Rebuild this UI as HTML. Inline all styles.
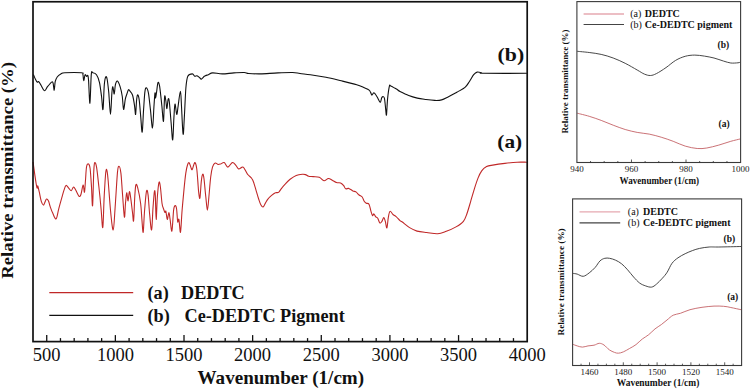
<!DOCTYPE html>
<html><head><meta charset="utf-8"><style>
html,body{margin:0;padding:0;background:#fff;}
svg{display:block;}
text{font-family:"Liberation Serif",serif;}
</style></head><body>
<svg width="750" height="389" viewBox="0 0 750 389">
<rect x="0" y="0" width="750" height="389" fill="#fff"/>
<!-- main chart -->
<g fill="none" stroke-linejoin="round" stroke-linecap="round">
<path d="M33.6,74.9 C33.9,75.5 34.5,77.3 35.1,78.5 C35.7,79.7 36.6,81.6 37.2,82.1 C37.8,82.6 38.0,81.0 38.7,81.6 C39.4,82.2 40.3,84.2 41.3,85.7 C42.2,87.2 43.4,90.6 44.4,90.8 C45.4,91.0 46.3,88.2 47.5,86.7 C48.7,85.2 50.7,82.7 51.6,82.1 C52.5,81.5 52.7,81.7 53.1,83.1 C53.5,84.5 53.9,90.5 54.2,90.3 C54.6,90.0 54.7,83.8 55.2,81.6 C55.7,79.4 56.3,78.3 57.2,77.0 C58.1,75.7 59.5,74.6 60.8,73.9 C62.1,73.2 61.5,73.0 64.9,72.8 C68.3,72.6 78.4,72.5 81.4,72.8 C84.4,73.1 82.5,73.1 82.9,74.4 C83.3,75.7 83.3,80.5 83.7,80.6 C84.1,80.7 84.6,75.5 85.1,74.8 C85.6,74.1 86.1,76.4 86.6,76.5 C87.0,76.6 87.5,74.7 87.8,75.4 C88.1,76.1 88.2,76.0 88.6,80.6 C88.9,85.2 89.5,104.2 89.9,103.2 C90.4,102.2 90.8,79.5 91.3,74.4 C91.8,69.3 91.9,72.7 92.8,72.8 C93.7,72.9 95.4,73.2 96.5,74.8 C97.6,76.4 98.7,78.9 99.5,82.6 C100.3,86.3 101.0,92.5 101.6,97.0 C102.2,101.5 102.5,111.5 103.0,109.4 C103.5,107.4 103.8,90.1 104.3,84.7 C104.8,79.3 105.2,77.8 105.7,76.9 C106.2,76.0 106.7,76.8 107.2,79.5 C107.7,82.2 108.2,87.1 108.8,92.9 C109.3,98.7 110.0,114.5 110.5,114.5 C111.0,114.5 111.5,97.5 111.9,92.9 C112.3,88.3 112.5,86.5 112.9,86.7 C113.3,86.9 113.8,94.3 114.2,94.0 C114.6,93.7 114.9,86.9 115.4,84.7 C115.9,82.5 116.6,80.7 117.4,81.0 C118.2,81.3 119.3,84.2 120.1,86.7 C120.9,89.2 121.6,92.2 122.2,96.0 C122.8,99.8 123.1,108.9 123.6,109.4 C124.1,109.9 124.8,101.7 125.3,99.1 C125.8,96.5 126.4,95.5 126.9,94.0 C127.4,92.5 127.9,90.3 128.4,89.8 C128.9,89.3 129.1,90.0 129.8,90.9 C130.5,91.8 131.7,92.6 132.5,95.0 C133.3,97.4 134.0,102.0 134.5,105.3 C135.0,108.5 135.3,115.2 135.6,114.5 C135.9,113.8 136.2,104.5 136.5,101.2 C136.8,98.0 137.1,95.3 137.5,95.0 C137.9,94.7 138.5,95.3 139.1,99.1 C139.7,102.9 140.3,112.1 140.8,117.6 C141.3,123.1 141.7,133.4 142.2,132.0 C142.7,130.6 143.1,116.1 143.6,109.4 C144.1,102.7 144.4,95.5 144.9,91.9 C145.4,88.3 145.7,87.6 146.3,87.8 C146.9,88.0 147.7,89.3 148.4,92.9 C149.1,96.5 149.7,103.6 150.4,109.4 C151.1,115.2 151.9,128.2 152.5,127.9 C153.1,127.6 153.5,113.1 153.9,107.3 C154.3,101.5 154.7,94.5 155.0,92.9 C155.3,91.4 155.3,98.2 155.6,98.0 C155.9,97.8 156.2,94.5 156.6,91.9 C157.0,89.3 157.5,83.5 158.0,82.6 C158.5,81.7 159.0,82.8 159.7,86.7 C160.3,90.7 161.3,100.5 161.9,106.3 C162.5,112.1 163.1,122.8 163.5,121.3 C163.9,119.8 164.2,100.5 164.6,97.0 C165.0,93.5 165.4,98.6 165.8,100.5 C166.2,102.4 166.5,108.8 166.9,108.6 C167.3,108.4 167.7,100.6 168.1,99.4 C168.5,98.2 168.8,97.9 169.3,101.7 C169.8,105.5 170.5,116.1 171.1,122.5 C171.7,128.9 172.2,140.7 172.7,139.9 C173.2,139.1 173.5,123.9 173.9,117.9 C174.3,111.9 174.5,104.6 175.0,104.0 C175.5,103.4 176.2,114.0 176.7,114.4 C177.2,114.8 177.5,110.2 178.1,106.3 C178.7,102.4 179.8,91.3 180.4,91.3 C181.0,91.3 181.1,99.2 181.5,106.3 C181.9,113.4 182.6,132.2 183.1,134.1 C183.6,136.0 183.8,125.6 184.3,117.9 C184.8,110.2 185.3,94.8 185.9,87.8 C186.5,80.8 186.7,78.5 187.8,76.2 C188.9,73.9 191.2,73.9 192.4,73.9 C193.6,73.9 193.9,75.9 194.7,76.2 C195.5,76.5 196.2,75.5 197.0,75.7 C197.8,75.9 198.7,76.8 199.4,77.4 C200.1,78.0 200.5,79.3 201.4,79.1 C202.3,78.9 203.5,76.8 204.7,76.1 C205.8,75.4 207.0,75.2 208.3,74.7 C209.6,74.2 210.4,73.0 212.7,72.9 C215.0,72.8 218.8,73.9 222.3,73.9 C225.9,73.9 230.3,73.1 234.0,72.9 C237.7,72.7 241.9,72.4 244.3,72.5 C246.8,72.6 246.0,73.3 248.7,73.5 C251.4,73.7 255.5,74.0 260.4,73.9 C265.3,73.8 272.6,73.1 278.0,72.9 C283.4,72.7 288.9,72.4 292.6,72.5 C296.3,72.6 297.0,73.1 300.0,73.5 C303.0,73.9 306.1,74.1 310.4,74.7 C314.7,75.3 320.8,76.3 325.9,77.3 C331.0,78.3 336.2,79.6 341.3,80.8 C346.4,82.0 352.9,83.5 356.7,84.7 C360.5,85.9 362.3,86.9 364.4,87.8 C366.5,88.7 368.1,89.3 369.1,90.1 C370.1,90.9 370.1,91.6 370.6,92.4 C371.1,93.2 371.4,95.2 371.9,95.2 C372.4,95.2 373.1,92.9 373.7,92.7 C374.2,92.5 374.5,93.2 375.2,94.0 C375.9,94.8 376.8,96.4 377.6,97.8 C378.4,99.2 379.5,102.4 380.2,102.4 C380.9,102.4 381.2,98.8 381.7,97.8 C382.2,96.8 382.8,96.6 383.3,96.7 C383.8,96.8 384.1,96.5 384.5,98.6 C384.9,100.7 385.4,106.7 385.7,109.4 C386.0,112.1 386.2,116.6 386.5,114.8 C386.8,113.0 387.1,103.4 387.6,98.6 C388.1,93.8 388.9,88.3 389.4,86.2 C389.9,84.1 389.4,85.4 390.7,85.9 C391.9,86.4 395.3,88.4 396.9,89.3 C398.4,90.2 398.0,90.5 400.0,91.5 C402.0,92.5 405.8,94.4 408.7,95.5 C411.6,96.6 414.4,97.4 417.3,98.1 C420.2,98.8 423.1,99.1 426.0,99.5 C428.9,99.9 432.1,100.3 434.7,100.4 C437.3,100.5 439.3,100.5 441.6,99.9 C443.9,99.3 445.9,98.0 448.5,96.7 C451.1,95.4 454.4,93.6 457.2,92.1 C459.9,90.5 463.0,89.1 465.0,87.4 C467.0,85.7 467.9,83.8 469.3,81.7 C470.8,79.6 472.4,76.3 473.7,74.7 C475.0,73.1 475.8,72.4 477.1,72.1 C478.4,71.8 480.4,72.5 481.5,72.7 C482.6,72.9 476.5,73.2 484.0,73.3 C491.5,73.4 519.4,73.3 526.5,73.3" stroke="#111" stroke-width="1.1"/>
<path d="M33.1,162.3 C33.3,164.0 34.0,169.0 34.5,172.6 C35.0,176.2 35.8,181.4 36.2,184.0 C36.7,186.6 36.9,187.8 37.2,188.1 C37.5,188.4 37.4,185.3 37.8,186.0 C38.1,186.7 38.7,189.6 39.3,192.2 C39.9,194.8 40.6,199.2 41.3,201.4 C42.0,203.6 42.8,204.9 43.4,205.1 C44.0,205.3 44.3,203.5 44.8,202.5 C45.3,201.5 45.9,199.2 46.5,199.0 C47.1,198.8 47.9,199.7 48.5,201.0 C49.1,202.3 49.5,204.6 50.2,206.6 C50.9,208.6 51.6,210.8 52.6,212.8 C53.6,214.9 55.1,219.6 56.1,218.9 C57.1,218.2 57.8,212.2 58.8,208.6 C59.8,205.0 61.0,200.4 61.9,197.3 C62.8,194.2 63.3,192.1 64.0,190.1 C64.7,188.1 65.2,185.7 66.0,185.4 C66.8,185.1 67.8,187.2 68.7,188.1 C69.6,189.0 70.4,190.9 71.2,190.7 C72.0,190.5 72.8,187.1 73.6,187.0 C74.3,186.9 74.8,188.5 75.7,190.1 C76.6,191.7 78.1,195.6 79.0,196.3 C79.9,197.0 80.3,196.1 81.0,194.2 C81.7,192.3 82.5,185.3 83.1,185.0 C83.7,184.7 84.1,193.2 84.5,192.2 C84.9,191.2 85.2,183.1 85.6,178.8 C85.9,174.5 86.1,169.0 86.6,166.5 C87.1,164.0 87.9,163.6 88.5,163.9 C89.1,164.2 89.6,164.7 90.1,168.5 C90.6,172.3 91.1,180.8 91.5,187.0 C91.9,193.2 92.2,208.3 92.6,205.6 C93.0,202.9 93.4,178.0 93.8,170.8 C94.2,163.7 94.2,163.3 94.7,162.7 C95.2,162.1 95.9,163.3 96.6,167.4 C97.3,171.5 98.1,179.9 98.9,187.0 C99.7,194.1 100.6,203.4 101.2,210.2 C101.8,216.9 102.3,229.8 102.8,227.5 C103.3,225.2 103.7,205.6 104.2,196.3 C104.7,187.1 105.3,176.2 105.8,172.0 C106.3,167.8 106.6,169.5 107.0,170.8 C107.4,172.1 107.5,173.4 108.1,180.0 C108.7,186.6 109.7,201.9 110.5,210.2 C111.3,218.5 112.4,230.3 113.2,229.9 C114.0,229.5 114.4,217.4 115.1,207.9 C115.8,198.4 116.8,180.1 117.4,173.1 C118.1,166.1 118.4,166.2 119.0,166.2 C119.6,166.2 120.3,168.5 120.9,173.1 C121.5,177.7 121.9,186.7 122.5,194.0 C123.1,201.3 123.9,215.6 124.4,217.1 C124.9,218.6 125.1,207.2 125.5,203.2 C125.9,199.1 126.3,193.2 126.7,192.8 C127.1,192.4 127.6,201.1 128.1,200.9 C128.5,200.7 128.9,192.1 129.4,191.7 C129.9,191.3 130.3,195.1 130.8,198.6 C131.3,202.1 132.0,208.8 132.5,212.5 C133.0,216.2 133.2,223.3 133.6,220.6 C134.0,217.9 134.4,202.3 134.8,196.3 C135.2,190.3 135.4,186.0 135.9,184.7 C136.4,183.3 137.0,185.1 137.8,188.2 C138.6,191.3 139.9,198.0 140.6,203.2 C141.3,208.4 141.5,214.6 141.9,219.4 C142.3,224.2 142.8,233.7 143.2,232.2 C143.6,230.7 144.0,217.0 144.6,210.2 C145.2,203.4 145.9,193.7 146.5,191.2 C147.1,188.7 147.6,191.2 148.1,195.1 C148.6,199.0 149.1,209.0 149.7,214.8 C150.3,220.6 151.0,231.1 151.6,229.9 C152.2,228.8 152.5,214.3 153.0,207.9 C153.5,201.5 154.0,193.8 154.4,191.7 C154.8,189.6 155.0,190.5 155.3,195.1 C155.6,199.7 155.8,219.2 156.2,219.4 C156.5,219.6 156.9,202.5 157.4,196.3 C157.9,190.1 158.5,184.0 159.0,182.4 C159.5,180.8 159.9,183.5 160.4,187.0 C160.9,190.5 161.5,199.5 162.0,203.2 C162.5,206.9 163.1,207.4 163.6,209.0 C164.1,210.6 164.6,212.1 165.0,212.5 C165.4,212.9 165.5,210.2 165.9,211.3 C166.3,212.5 166.8,219.2 167.3,219.4 C167.8,219.6 168.4,212.5 168.9,212.5 C169.4,212.5 169.6,216.3 170.1,219.4 C170.6,222.5 171.3,232.5 171.9,231.0 C172.5,229.5 173.1,214.4 173.6,210.2 C174.1,206.0 174.7,205.8 175.2,205.6 C175.7,205.4 176.2,206.3 176.6,209.0 C177.0,211.7 177.3,220.1 177.7,221.8 C178.1,223.5 178.4,217.7 178.9,219.4 C179.4,221.1 180.0,233.7 180.5,232.2 C181.0,230.7 181.5,217.3 182.1,210.2 C182.7,203.1 183.4,195.6 184.0,189.4 C184.6,183.2 185.2,177.2 185.8,173.1 C186.4,169.0 186.9,166.7 187.5,165.0 C188.1,163.3 188.5,162.3 189.1,162.7 C189.7,163.1 190.4,166.2 190.9,167.4 C191.4,168.6 191.6,170.1 192.1,169.7 C192.6,169.3 193.2,166.2 193.7,165.0 C194.2,163.8 194.6,162.1 195.1,162.7 C195.6,163.3 196.2,165.2 196.7,168.5 C197.2,171.8 197.6,178.6 197.9,182.4 C198.2,186.2 198.3,188.8 198.6,191.4 C198.9,194.0 199.5,199.7 199.9,198.2 C200.3,196.7 200.8,186.4 201.2,182.4 C201.6,178.4 202.1,174.9 202.6,174.3 C203.1,173.7 203.5,175.1 204.0,178.8 C204.5,182.6 205.2,191.6 205.8,196.8 C206.4,202.1 206.9,210.3 207.4,210.3 C207.9,210.3 208.4,202.4 208.9,196.8 C209.4,191.2 210.1,181.9 210.7,177.0 C211.3,172.1 211.8,169.4 212.5,167.1 C213.2,164.8 214.3,163.4 215.2,163.0 C216.1,162.6 217.0,164.2 217.9,164.4 C218.8,164.6 219.6,164.3 220.6,164.0 C221.6,163.7 223.0,162.1 224.2,162.6 C225.4,163.1 226.5,167.1 227.8,167.1 C229.2,167.1 231.0,162.9 232.3,162.6 C233.7,162.3 234.9,164.2 235.9,165.3 C236.9,166.4 237.6,168.6 238.6,168.9 C239.6,169.2 241.3,167.2 242.2,167.1 C243.1,166.9 243.1,166.8 244.0,168.0 C244.9,169.2 246.3,172.6 247.6,174.3 C248.9,176.1 250.8,177.0 251.8,178.5 C252.9,180.0 253.2,181.0 253.9,183.1 C254.6,185.2 255.4,188.2 256.2,190.8 C257.0,193.4 257.7,196.2 258.5,198.5 C259.3,200.8 260.0,203.3 260.8,204.7 C261.6,206.1 262.3,207.3 263.1,207.0 C263.9,206.7 264.6,204.4 265.4,203.1 C266.2,201.8 266.7,200.6 267.7,199.3 C268.7,198.0 270.3,196.5 271.6,195.4 C272.9,194.3 274.2,193.3 275.4,192.8 C276.5,192.3 277.6,193.0 278.5,192.4 C279.4,191.8 279.7,190.7 280.8,189.3 C281.9,187.9 283.8,185.6 285.4,183.9 C286.9,182.2 288.3,180.7 290.1,179.3 C291.9,177.9 294.1,176.2 296.2,175.4 C298.2,174.6 300.8,174.4 302.4,174.3 C303.9,174.2 304.5,174.3 305.5,174.6 C306.5,174.9 307.3,175.9 308.6,176.2 C309.9,176.5 311.4,176.4 313.2,176.6 C315.0,176.8 317.5,176.6 319.3,177.3 C321.1,178.0 322.5,180.6 324.0,180.8 C325.5,181.0 327.0,178.6 328.4,178.5 C329.8,178.4 330.9,179.5 332.3,180.2 C333.7,180.9 335.1,182.1 336.5,182.6 C337.9,183.1 339.4,182.5 340.6,183.0 C341.8,183.5 342.9,184.7 343.7,185.7 C344.5,186.7 344.8,188.4 345.7,188.8 C346.6,189.2 347.6,188.1 348.8,188.4 C350.0,188.8 351.7,190.3 352.9,190.9 C354.1,191.5 355.0,191.2 356.0,191.9 C357.0,192.6 358.1,194.2 359.1,195.0 C360.1,195.8 361.4,196.0 362.2,197.0 C363.0,198.0 363.5,200.2 364.2,201.2 C364.9,202.2 365.5,202.7 366.3,203.2 C367.1,203.7 368.2,202.8 369.0,204.2 C369.8,205.6 370.4,209.5 371.0,211.4 C371.6,213.3 372.0,215.2 372.5,215.6 C373.0,216.0 373.4,213.7 373.9,213.9 C374.4,214.1 375.0,215.9 375.6,216.6 C376.2,217.3 376.9,217.0 377.6,218.0 C378.3,219.0 379.0,222.2 379.7,222.8 C380.4,223.4 381.0,222.6 381.7,221.7 C382.4,220.8 383.2,217.6 383.8,217.6 C384.4,217.6 384.9,220.0 385.4,221.7 C385.9,223.4 386.4,228.6 386.9,227.9 C387.4,227.2 387.8,220.3 388.3,217.6 C388.8,214.8 389.2,211.9 390.0,211.4 C390.8,210.9 392.0,213.6 393.0,214.5 C394.0,215.4 394.9,215.6 396.1,216.6 C397.3,217.6 399.0,219.8 400.0,220.7 C401.0,221.6 400.7,220.8 402.3,222.0 C403.9,223.2 407.2,226.1 409.6,227.6 C412.1,229.1 414.1,230.3 417.0,231.1 C419.9,231.9 423.2,232.1 426.7,232.5 C430.1,232.9 434.4,233.9 437.7,233.7 C441.0,233.5 443.2,232.4 446.3,231.3 C449.4,230.2 453.1,228.6 456.0,226.9 C458.9,225.2 461.6,223.5 463.4,221.3 C465.2,219.1 465.8,216.8 467.0,213.5 C468.2,210.2 469.5,205.4 470.7,201.3 C471.9,197.2 473.1,193.0 474.3,189.1 C475.5,185.2 476.8,181.1 478.0,178.1 C479.2,175.1 480.3,172.7 481.7,170.8 C483.1,168.9 484.8,167.6 486.6,166.6 C488.4,165.6 489.6,165.6 492.7,165.1 C495.8,164.6 500.8,163.9 504.9,163.4 C509.0,162.9 513.5,162.4 517.1,162.2 C520.7,162.0 524.9,162.2 526.5,162.2" stroke="#c02828" stroke-width="1.1"/>
</g>
<rect x="33.0" y="1.75" width="494.20" height="339.85" fill="none" stroke="#111" stroke-width="1.7"/>
<g stroke="#111" stroke-width="1.3"><line x1="46.73" y1="341.6" x2="46.73" y2="335.1"/><line x1="60.46" y1="341.6" x2="60.46" y2="338.1"/><line x1="74.18" y1="341.6" x2="74.18" y2="338.1"/><line x1="87.91" y1="341.6" x2="87.91" y2="338.1"/><line x1="101.64" y1="341.6" x2="101.64" y2="338.1"/><line x1="115.37" y1="341.6" x2="115.37" y2="335.1"/><line x1="129.09" y1="341.6" x2="129.09" y2="338.1"/><line x1="142.82" y1="341.6" x2="142.82" y2="338.1"/><line x1="156.55" y1="341.6" x2="156.55" y2="338.1"/><line x1="170.28" y1="341.6" x2="170.28" y2="338.1"/><line x1="184.01" y1="341.6" x2="184.01" y2="335.1"/><line x1="197.73" y1="341.6" x2="197.73" y2="338.1"/><line x1="211.46" y1="341.6" x2="211.46" y2="338.1"/><line x1="225.19" y1="341.6" x2="225.19" y2="338.1"/><line x1="238.92" y1="341.6" x2="238.92" y2="338.1"/><line x1="252.64" y1="341.6" x2="252.64" y2="335.1"/><line x1="266.37" y1="341.6" x2="266.37" y2="338.1"/><line x1="280.10" y1="341.6" x2="280.10" y2="338.1"/><line x1="293.83" y1="341.6" x2="293.83" y2="338.1"/><line x1="307.56" y1="341.6" x2="307.56" y2="338.1"/><line x1="321.28" y1="341.6" x2="321.28" y2="335.1"/><line x1="335.01" y1="341.6" x2="335.01" y2="338.1"/><line x1="348.74" y1="341.6" x2="348.74" y2="338.1"/><line x1="362.47" y1="341.6" x2="362.47" y2="338.1"/><line x1="376.19" y1="341.6" x2="376.19" y2="338.1"/><line x1="389.92" y1="341.6" x2="389.92" y2="335.1"/><line x1="403.65" y1="341.6" x2="403.65" y2="338.1"/><line x1="417.38" y1="341.6" x2="417.38" y2="338.1"/><line x1="431.11" y1="341.6" x2="431.11" y2="338.1"/><line x1="444.83" y1="341.6" x2="444.83" y2="338.1"/><line x1="458.56" y1="341.6" x2="458.56" y2="335.1"/><line x1="472.29" y1="341.6" x2="472.29" y2="338.1"/><line x1="486.02" y1="341.6" x2="486.02" y2="338.1"/><line x1="499.74" y1="341.6" x2="499.74" y2="338.1"/><line x1="513.47" y1="341.6" x2="513.47" y2="338.1"/></g>
<g font-size="18.5" fill="#111"><text x="46.7" y="361" text-anchor="middle">500</text><text x="115.4" y="361" text-anchor="middle">1000</text><text x="184.0" y="361" text-anchor="middle">1500</text><text x="252.6" y="361" text-anchor="middle">2000</text><text x="321.3" y="361" text-anchor="middle">2500</text><text x="389.9" y="361" text-anchor="middle">3000</text><text x="458.6" y="361" text-anchor="middle">3500</text><text x="527.2" y="361" text-anchor="middle">4000</text></g>
<text x="197.6" y="384.2" font-size="18.3" font-weight="bold" fill="#111" textLength="166.5" lengthAdjust="spacingAndGlyphs">Wavenumber (1/cm)</text>
<text transform="translate(12.8,278.8) rotate(-90)" font-size="17.2" font-weight="bold" fill="#111" textLength="216.8" lengthAdjust="spacingAndGlyphs">Relative transmittance (%)</text>
<line x1="49.3" y1="292.6" x2="133.2" y2="292.6" stroke="#c02828" stroke-width="1.4"/>
<line x1="49.3" y1="315.4" x2="133.2" y2="315.4" stroke="#111" stroke-width="1.4"/>
<g font-size="18.2" font-weight="bold" fill="#111">
<text x="147.5" y="299">(a)</text><text x="181" y="299">DEDTC</text>
<text x="147.5" y="321.8">(b)</text><text x="184.6" y="321.8">Ce-DEDTC Pigment</text>
</g>
<g font-size="19.5" font-weight="bold" fill="#111">
<text x="497.6" y="60.5" textLength="26.6" lengthAdjust="spacingAndGlyphs">(b)</text>
<text x="497.3" y="148.3" textLength="24.8" lengthAdjust="spacingAndGlyphs">(a)</text>
</g>
<!-- top inset -->
<g fill="none" stroke-linejoin="round">
<path d="M577.2,51.3 C579.2,51.5 585.2,52.0 589.2,52.5 C593.2,53.0 597.2,53.5 601.2,54.4 C605.2,55.3 609.2,56.5 613.2,58.0 C617.2,59.5 621.2,61.3 625.2,63.3 C629.2,65.3 634.0,68.2 637.2,70.0 C640.4,71.8 642.2,73.2 644.4,74.1 C646.6,75.0 648.4,75.6 650.4,75.5 C652.4,75.4 653.8,74.9 656.4,73.6 C659.0,72.3 662.8,69.8 666.0,67.6 C669.2,65.4 672.4,62.3 675.6,60.4 C678.8,58.5 682.0,57.2 685.2,56.3 C688.4,55.4 691.6,55.1 694.8,55.1 C698.0,55.1 701.2,55.6 704.4,56.1 C707.6,56.6 710.8,57.2 714.0,58.0 C717.2,58.8 720.8,60.3 723.6,61.1 C726.4,61.9 728.4,62.7 730.8,63.0 C733.2,63.3 736.4,62.9 738.0,62.8 C739.6,62.6 740.0,62.2 740.4,62.1" stroke="#333" stroke-width="0.9"/>
<path d="M577.2,113.2 C579.2,113.7 585.2,115.1 589.2,116.3 C593.2,117.5 597.2,118.9 601.2,120.4 C605.2,121.9 609.2,123.7 613.2,125.2 C617.2,126.7 621.2,128.3 625.2,129.5 C629.2,130.7 633.2,131.6 637.2,132.4 C641.2,133.2 645.2,133.3 649.2,134.1 C653.2,134.9 657.2,136.0 661.2,137.2 C665.2,138.4 669.2,139.8 673.2,141.3 C677.2,142.8 681.2,144.9 685.2,146.1 C689.2,147.3 693.6,148.2 697.2,148.5 C700.8,148.8 703.2,148.6 706.8,148.0 C710.4,147.4 714.8,146.2 718.8,145.1 C722.8,144.0 727.2,142.3 730.8,141.3 C734.4,140.3 738.8,139.3 740.4,138.9" stroke="#c46266" stroke-width="0.9"/>
</g>
<rect x="576.9" y="1.6" width="163.70" height="160.90" fill="none" stroke="#3a3a3a" stroke-width="1.1"/>
<g stroke="#333" stroke-width="0.8"><line x1="590.54" y1="162.5" x2="590.54" y2="161.0"/><line x1="604.18" y1="162.5" x2="604.18" y2="161.0"/><line x1="617.83" y1="162.5" x2="617.83" y2="161.0"/><line x1="631.47" y1="162.5" x2="631.47" y2="159.5"/><line x1="645.11" y1="162.5" x2="645.11" y2="161.0"/><line x1="658.75" y1="162.5" x2="658.75" y2="161.0"/><line x1="672.39" y1="162.5" x2="672.39" y2="161.0"/><line x1="686.03" y1="162.5" x2="686.03" y2="159.5"/><line x1="699.67" y1="162.5" x2="699.67" y2="161.0"/><line x1="713.32" y1="162.5" x2="713.32" y2="161.0"/><line x1="726.96" y1="162.5" x2="726.96" y2="161.0"/></g>
<g font-size="9" fill="#222"><text x="576.9" y="172.2" text-anchor="middle">940</text><text x="631.5" y="172.2" text-anchor="middle">960</text><text x="686.0" y="172.2" text-anchor="middle">980</text><text x="740.6" y="172.2" text-anchor="middle">1000</text></g>
<text x="619.6" y="183.6" font-size="9.5" font-weight="bold" fill="#111" textLength="79.5" lengthAdjust="spacingAndGlyphs">Wavenumber (1/cm)</text>
<text transform="translate(568.3,133.6) rotate(-90)" font-size="9" font-weight="bold" fill="#111" textLength="104" lengthAdjust="spacingAndGlyphs">Relative transmittance (%)</text>
<line x1="583.6" y1="14" x2="624" y2="14" stroke="#e6a8b0" stroke-width="1.3"/>
<line x1="583.6" y1="24.5" x2="624" y2="24.5" stroke="#444" stroke-width="1.1"/>
<g font-size="10" fill="#111">
<text x="630.2" y="17.4">(a)</text><text x="644.8" y="17.4" font-weight="bold">DEDTC</text>
<text x="630.2" y="28.4">(b)</text><text x="644.8" y="28.4" font-weight="bold">Ce-DEDTC pigment</text>
</g>
<g font-size="9.5" font-weight="bold" fill="#111">
<text x="717.6" y="48.2">(b)</text>
<text x="718.6" y="126.8">(a)</text>
</g>
<!-- bottom inset -->
<g fill="none" stroke-linejoin="round">
<path d="M572.9,273.4 C573.6,273.5 575.5,273.6 577.2,274.1 C578.9,274.6 581.2,276.5 583.2,276.3 C585.2,276.1 587.2,274.4 589.2,272.9 C591.2,271.4 593.4,269.4 595.2,267.4 C597.0,265.4 598.4,262.4 600.0,260.9 C601.6,259.4 603.2,258.7 604.8,258.3 C606.4,257.9 607.8,258.0 609.6,258.3 C611.4,258.6 613.6,259.3 615.6,260.2 C617.6,261.1 619.6,262.2 621.6,263.8 C623.6,265.4 625.6,267.6 627.6,269.8 C629.6,272.0 631.6,274.8 633.6,277.0 C635.6,279.2 637.6,281.5 639.6,283.0 C641.6,284.5 643.6,285.2 645.6,285.9 C647.6,286.6 649.8,287.4 651.6,287.1 C653.4,286.8 654.6,285.7 656.4,284.2 C658.2,282.7 660.6,280.2 662.4,278.2 C664.2,276.2 665.6,274.7 667.2,272.2 C668.8,269.7 670.2,265.7 672.0,263.3 C673.8,260.9 675.8,259.4 678.0,257.8 C680.2,256.2 682.8,254.9 685.2,253.7 C687.6,252.5 690.0,251.5 692.4,250.6 C694.8,249.7 696.8,249.0 699.6,248.4 C702.4,247.8 706.0,247.2 709.2,247.0 C712.4,246.8 713.5,247.1 718.8,247.0 C724.1,246.9 737.3,246.6 741.0,246.5" stroke="#333" stroke-width="0.9"/>
<path d="M572.9,344.3 C573.6,344.6 575.6,345.4 577.2,345.9 C578.8,346.4 580.6,347.1 582.4,347.1 C584.2,347.1 586.1,346.2 588.0,345.9 C589.9,345.6 592.1,345.6 594.0,345.2 C595.9,344.8 597.6,343.3 599.3,343.3 C601.0,343.3 602.3,343.9 604.0,345.0 C605.7,346.1 607.6,348.7 609.4,349.9 C611.1,351.1 613.0,351.8 614.5,352.4 C616.0,352.9 616.8,353.3 618.3,353.2 C619.8,353.1 621.4,352.7 623.3,351.9 C625.2,351.1 627.6,349.6 629.7,348.4 C631.8,347.2 633.9,346.2 636.0,344.6 C638.1,343.0 640.2,340.6 642.3,339.0 C644.4,337.4 646.6,336.4 648.7,334.7 C650.8,333.0 652.9,330.6 655.0,328.9 C657.1,327.2 659.3,326.1 661.3,324.6 C663.3,323.1 665.0,321.6 667.0,320.0 C669.0,318.4 671.0,316.3 673.2,315.2 C675.4,314.1 677.6,314.2 680.4,313.3 C683.2,312.4 686.4,310.7 690.0,309.7 C693.6,308.7 698.0,307.9 702.0,307.3 C706.0,306.7 710.4,306.3 714.0,306.1 C717.6,305.9 720.8,306.1 723.6,306.3 C726.4,306.5 727.9,306.9 730.8,307.5 C733.7,308.1 739.3,309.3 741.0,309.7" stroke="#c46266" stroke-width="0.9"/>
</g>
<rect x="572.6" y="198.9" width="169.00" height="166.60" fill="none" stroke="#3a3a3a" stroke-width="1.1"/>
<g stroke="#333" stroke-width="0.8"><line x1="581.05" y1="365.5" x2="581.05" y2="363.7"/><line x1="589.50" y1="365.5" x2="589.50" y2="362.3"/><line x1="597.95" y1="365.5" x2="597.95" y2="363.7"/><line x1="606.40" y1="365.5" x2="606.40" y2="363.7"/><line x1="614.85" y1="365.5" x2="614.85" y2="363.7"/><line x1="623.30" y1="365.5" x2="623.30" y2="362.3"/><line x1="631.75" y1="365.5" x2="631.75" y2="363.7"/><line x1="640.20" y1="365.5" x2="640.20" y2="363.7"/><line x1="648.65" y1="365.5" x2="648.65" y2="363.7"/><line x1="657.10" y1="365.5" x2="657.10" y2="362.3"/><line x1="665.55" y1="365.5" x2="665.55" y2="363.7"/><line x1="674.00" y1="365.5" x2="674.00" y2="363.7"/><line x1="682.45" y1="365.5" x2="682.45" y2="363.7"/><line x1="690.90" y1="365.5" x2="690.90" y2="362.3"/><line x1="699.35" y1="365.5" x2="699.35" y2="363.7"/><line x1="707.80" y1="365.5" x2="707.80" y2="363.7"/><line x1="716.25" y1="365.5" x2="716.25" y2="363.7"/><line x1="724.70" y1="365.5" x2="724.70" y2="362.3"/><line x1="733.15" y1="365.5" x2="733.15" y2="363.7"/></g>
<g font-size="9" fill="#222"><text x="589.5" y="375" text-anchor="middle">1460</text><text x="623.3" y="375" text-anchor="middle">1480</text><text x="657.1" y="375" text-anchor="middle">1500</text><text x="690.9" y="375" text-anchor="middle">1520</text><text x="724.7" y="375" text-anchor="middle">1540</text></g>
<text x="616.8" y="386.2" font-size="9.5" font-weight="bold" fill="#111" textLength="82.5" lengthAdjust="spacingAndGlyphs">Wavenumber (1/cm)</text>
<text transform="translate(563.6,335.5) rotate(-90)" font-size="9" font-weight="bold" fill="#111" textLength="107.2" lengthAdjust="spacingAndGlyphs">Relative transmittance (%)</text>
<line x1="579.5" y1="211.8" x2="620.2" y2="211.8" stroke="#e6a8b0" stroke-width="1.3"/>
<line x1="579.5" y1="222.9" x2="620.2" y2="222.9" stroke="#444" stroke-width="1.1"/>
<g font-size="10" fill="#111">
<text x="627.8" y="214.6">(a)</text><text x="643" y="214.6" font-weight="bold">DEDTC</text>
<text x="627.8" y="225.8">(b)</text><text x="643" y="225.8" font-weight="bold">Ce-DEDTC pigment</text>
</g>
<g font-size="9.5" font-weight="bold" fill="#111">
<text x="723.6" y="242.3">(b)</text>
<text x="727.2" y="299.7">(a)</text>
</g>
</svg>
</body></html>
